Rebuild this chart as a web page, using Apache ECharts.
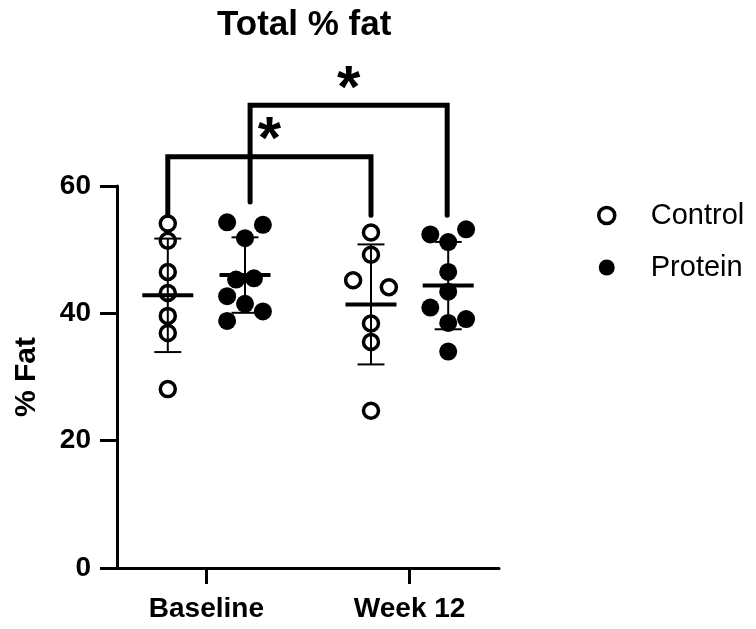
<!DOCTYPE html>
<html lang="en">

<head>
    <meta charset="UTF-8">
    <title>Total % fat</title>
    <script src="https://cdn.jsdelivr.net/npm/echarts@6/dist/echarts.min.js"></script>
    <style>
        body { margin: 0; background: #fff; }
        .demo { width: 756px; height: 629px; }
    </style>
</head>

<body>
    <div class="demo"></div>
    <script>
        // groups on the x axis (value positions 1 and 2)
        var categories = ['Baseline', 'Week 12']
        var groupPos = [1, 2]
        var seriesNames = ['Control', 'Protein']

        // % fat per animal
        var controlBaseline = [54.1, 51.4, 46.5, 43.2, 39.6, 36.9, 28.1]
        var controlWeek12 = [52.7, 49.2, 45.2, 44.1, 38.4, 35.5, 24.7]
        var proteinBaseline = [54.3, 53.9, 51.8, 45.3, 45.5, 42.7, 41.5, 40.3, 38.8]
        var proteinWeek12 = [52.4, 53.2, 51.2, 46.5, 43.4, 40.9, 38.5, 39.1, 34.0]

        // horizontal spread of the dots (-1 left, 0 centre, 1 right)
        var controlBaselineJitter = [0, 0, 0, 0, 0, 0, 0]
        var controlWeek12Jitter = [0, 0, -1, 1, 0, 0, 0]
        var proteinBaselineJitter = [-1, 1, 0, -0.5, 0.5, -1, 0, 1, -1]
        var proteinWeek12Jitter = [-1, 1, 0, 0, 0, -1, 0, 1, 0]

        // significance brackets: [x start, x end, top, left leg end, right leg end]
        var brackets = [
            [0.81, 1.81, 64.6, 55.4, 55.4],
            [1.215, 2.185, 72.7, 57.5, 55.4]
        ]
        var bracketLabels = ['*', '*']

        var yTicks = [0, 20, 40, 60]

        var font = 'Liberation Sans, Arial, Helvetica, sans-serif'
        var sideOffset = 0.19 // control left, protein right
        var jitterStep = 0.088

        function points(values, jitter, group, side) {
            return values.map(function (v, i) {
                return [groupPos[group] + side * sideOffset + jitter[i] * jitterStep, v]
            })
        }

        function meanSd(values, group, side) {
            var n = values.length
            var mean = values.reduce(function (a, b) { return a + b }, 0) / n
            var ss = values.reduce(function (a, b) { return a + (b - mean) * (b - mean) }, 0)
            return [groupPos[group] + side * sideOffset, mean, Math.sqrt(ss / (n - 1))]
        }

        var chart = echarts.init(document.querySelector('.demo'))

        var option = {
            animation: false,
            backgroundColor: '#fff',
            title: {
                text: 'Total % fat',
                left: 217,
                top: 8,
                padding: 0,
                textStyle: { fontFamily: font, fontSize: 35, fontWeight: 'bold', color: '#000' }
            },
            legend: {
                orient: 'vertical',
                left: 592,
                top: 196,
                itemGap: 23,
                itemWidth: 16,
                itemHeight: 16,
                data: [
                    { name: 'Control', itemStyle: { color: '#fff', borderColor: '#000', borderWidth: 3.5 } },
                    { name: 'Protein', itemStyle: { color: '#000' } }
                ],
                textStyle: { fontFamily: font, fontSize: 29, color: '#000', padding: [0, 0, 0, 31] }
            },
            grid: { left: 117, right: 257, top: 186, bottom: 61 },
            xAxis: {
                type: 'value',
                min: 0.56,
                max: 2.44,
                splitLine: { show: false },
                axisLine: { show: true, lineStyle: { color: '#000', width: 3 } },
                axisTick: { show: true, customValues: groupPos, length: 16, lineStyle: { color: '#000', width: 3 } },
                axisLabel: {
                    customValues: groupPos,
                    formatter: function (v) { return categories[groupPos.indexOf(v)] },
                    margin: 27,
                    fontFamily: font, fontSize: 28, fontWeight: 'bold', color: '#000'
                }
            },
            yAxis: {
                type: 'value',
                min: 0,
                max: 60,
                interval: 20,
                name: '% Fat',
                nameLocation: 'middle',
                nameGap: 75,
                nameTextStyle: { fontFamily: font, fontSize: 30, fontWeight: 'bold', color: '#000' },
                splitLine: { show: false },
                axisLine: { show: true, lineStyle: { color: '#000', width: 3 } },
                axisTick: { show: true, length: 17, lineStyle: { color: '#000', width: 3 } },
                axisLabel: {
                    margin: 26,
                    formatter: function (v) { return yTicks.indexOf(v) >= 0 ? String(v) : '' },
                    fontFamily: font, fontSize: 28, fontWeight: 'bold', color: '#000'
                }
            },
            series: [
                {
                    name: 'Control',
                    type: 'scatter',
                    symbol: 'circle',
                    symbolSize: 15,
                    itemStyle: { color: '#fff', borderColor: '#000', borderWidth: 3.5, opacity: 1 },
                    data: points(controlBaseline, controlBaselineJitter, 0, -1)
                        .concat(points(controlWeek12, controlWeek12Jitter, 1, -1)),
                    z: 2
                },
                {
                    name: 'Protein',
                    type: 'scatter',
                    symbol: 'circle',
                    symbolSize: 18,
                    itemStyle: { color: '#000', opacity: 1 },
                    data: points(proteinBaseline, proteinBaselineJitter, 0, 1)
                        .concat(points(proteinWeek12, proteinWeek12Jitter, 1, 1)),
                    z: 2
                },
                {
                    // mean with SD error bars
                    type: 'custom',
                    silent: true,
                    z: 3,
                    encode: { x: 0, y: 1 },
                    data: [
                        meanSd(controlBaseline, 0, -1),
                        meanSd(proteinBaseline, 0, 1),
                        meanSd(controlWeek12, 1, -1),
                        meanSd(proteinWeek12, 1, 1)
                    ],
                    renderItem: function (params, api) {
                        var x = api.value(0), m = api.value(1), sd = api.value(2)
                        var c = api.coord([x, m])
                        var top = api.coord([x, m + sd])[1]
                        var bot = api.coord([x, m - sd])[1]
                        var thin = { stroke: '#000', lineWidth: 2 }
                        return {
                            type: 'group',
                            children: [
                                { type: 'line', shape: { x1: c[0], y1: top, x2: c[0], y2: bot }, style: thin },
                                { type: 'line', shape: { x1: c[0] - 13.5, y1: top, x2: c[0] + 13.5, y2: top }, style: thin },
                                { type: 'line', shape: { x1: c[0] - 13.5, y1: bot, x2: c[0] + 13.5, y2: bot }, style: thin },
                                { type: 'line', shape: { x1: c[0] - 25.5, y1: c[1], x2: c[0] + 25.5, y2: c[1] }, style: { stroke: '#000', lineWidth: 4 } }
                            ]
                        }
                    }
                },
                {
                    // significance brackets drawn above the plot area
                    type: 'custom',
                    silent: true,
                    z: 4,
                    clip: false,
                    encode: { x: [0, 1], y: [2, 3, 4] },
                    data: brackets,
                    renderItem: function (params, api) {
                        var a = api.coord([api.value(0), api.value(2)])
                        var b = api.coord([api.value(1), api.value(2)])
                        var la = api.coord([api.value(0), api.value(3)])
                        var lb = api.coord([api.value(1), api.value(4)])
                        return {
                            type: 'group',
                            children: [
                                {
                                    type: 'polyline',
                                    shape: { points: [[la[0], la[1]], a, b, [lb[0], lb[1]]] },
                                    style: { stroke: '#000', lineWidth: 5, fill: null, lineJoin: 'miter', lineCap: 'round' }
                                },
                                {
                                    type: 'text',
                                    x: (a[0] + b[0]) / 2,
                                    y: a[1] - 15,
                                    style: {
                                        text: bracketLabels[params.dataIndex],
                                        fontFamily: font, fontSize: 60, fontWeight: 'bold', fill: '#000',
                                        align: 'center', verticalAlign: 'middle'
                                    }
                                }
                            ]
                        }
                    }
                }
            ]
        }

        chart.setOption(option)
    </script>
</body>

</html>
